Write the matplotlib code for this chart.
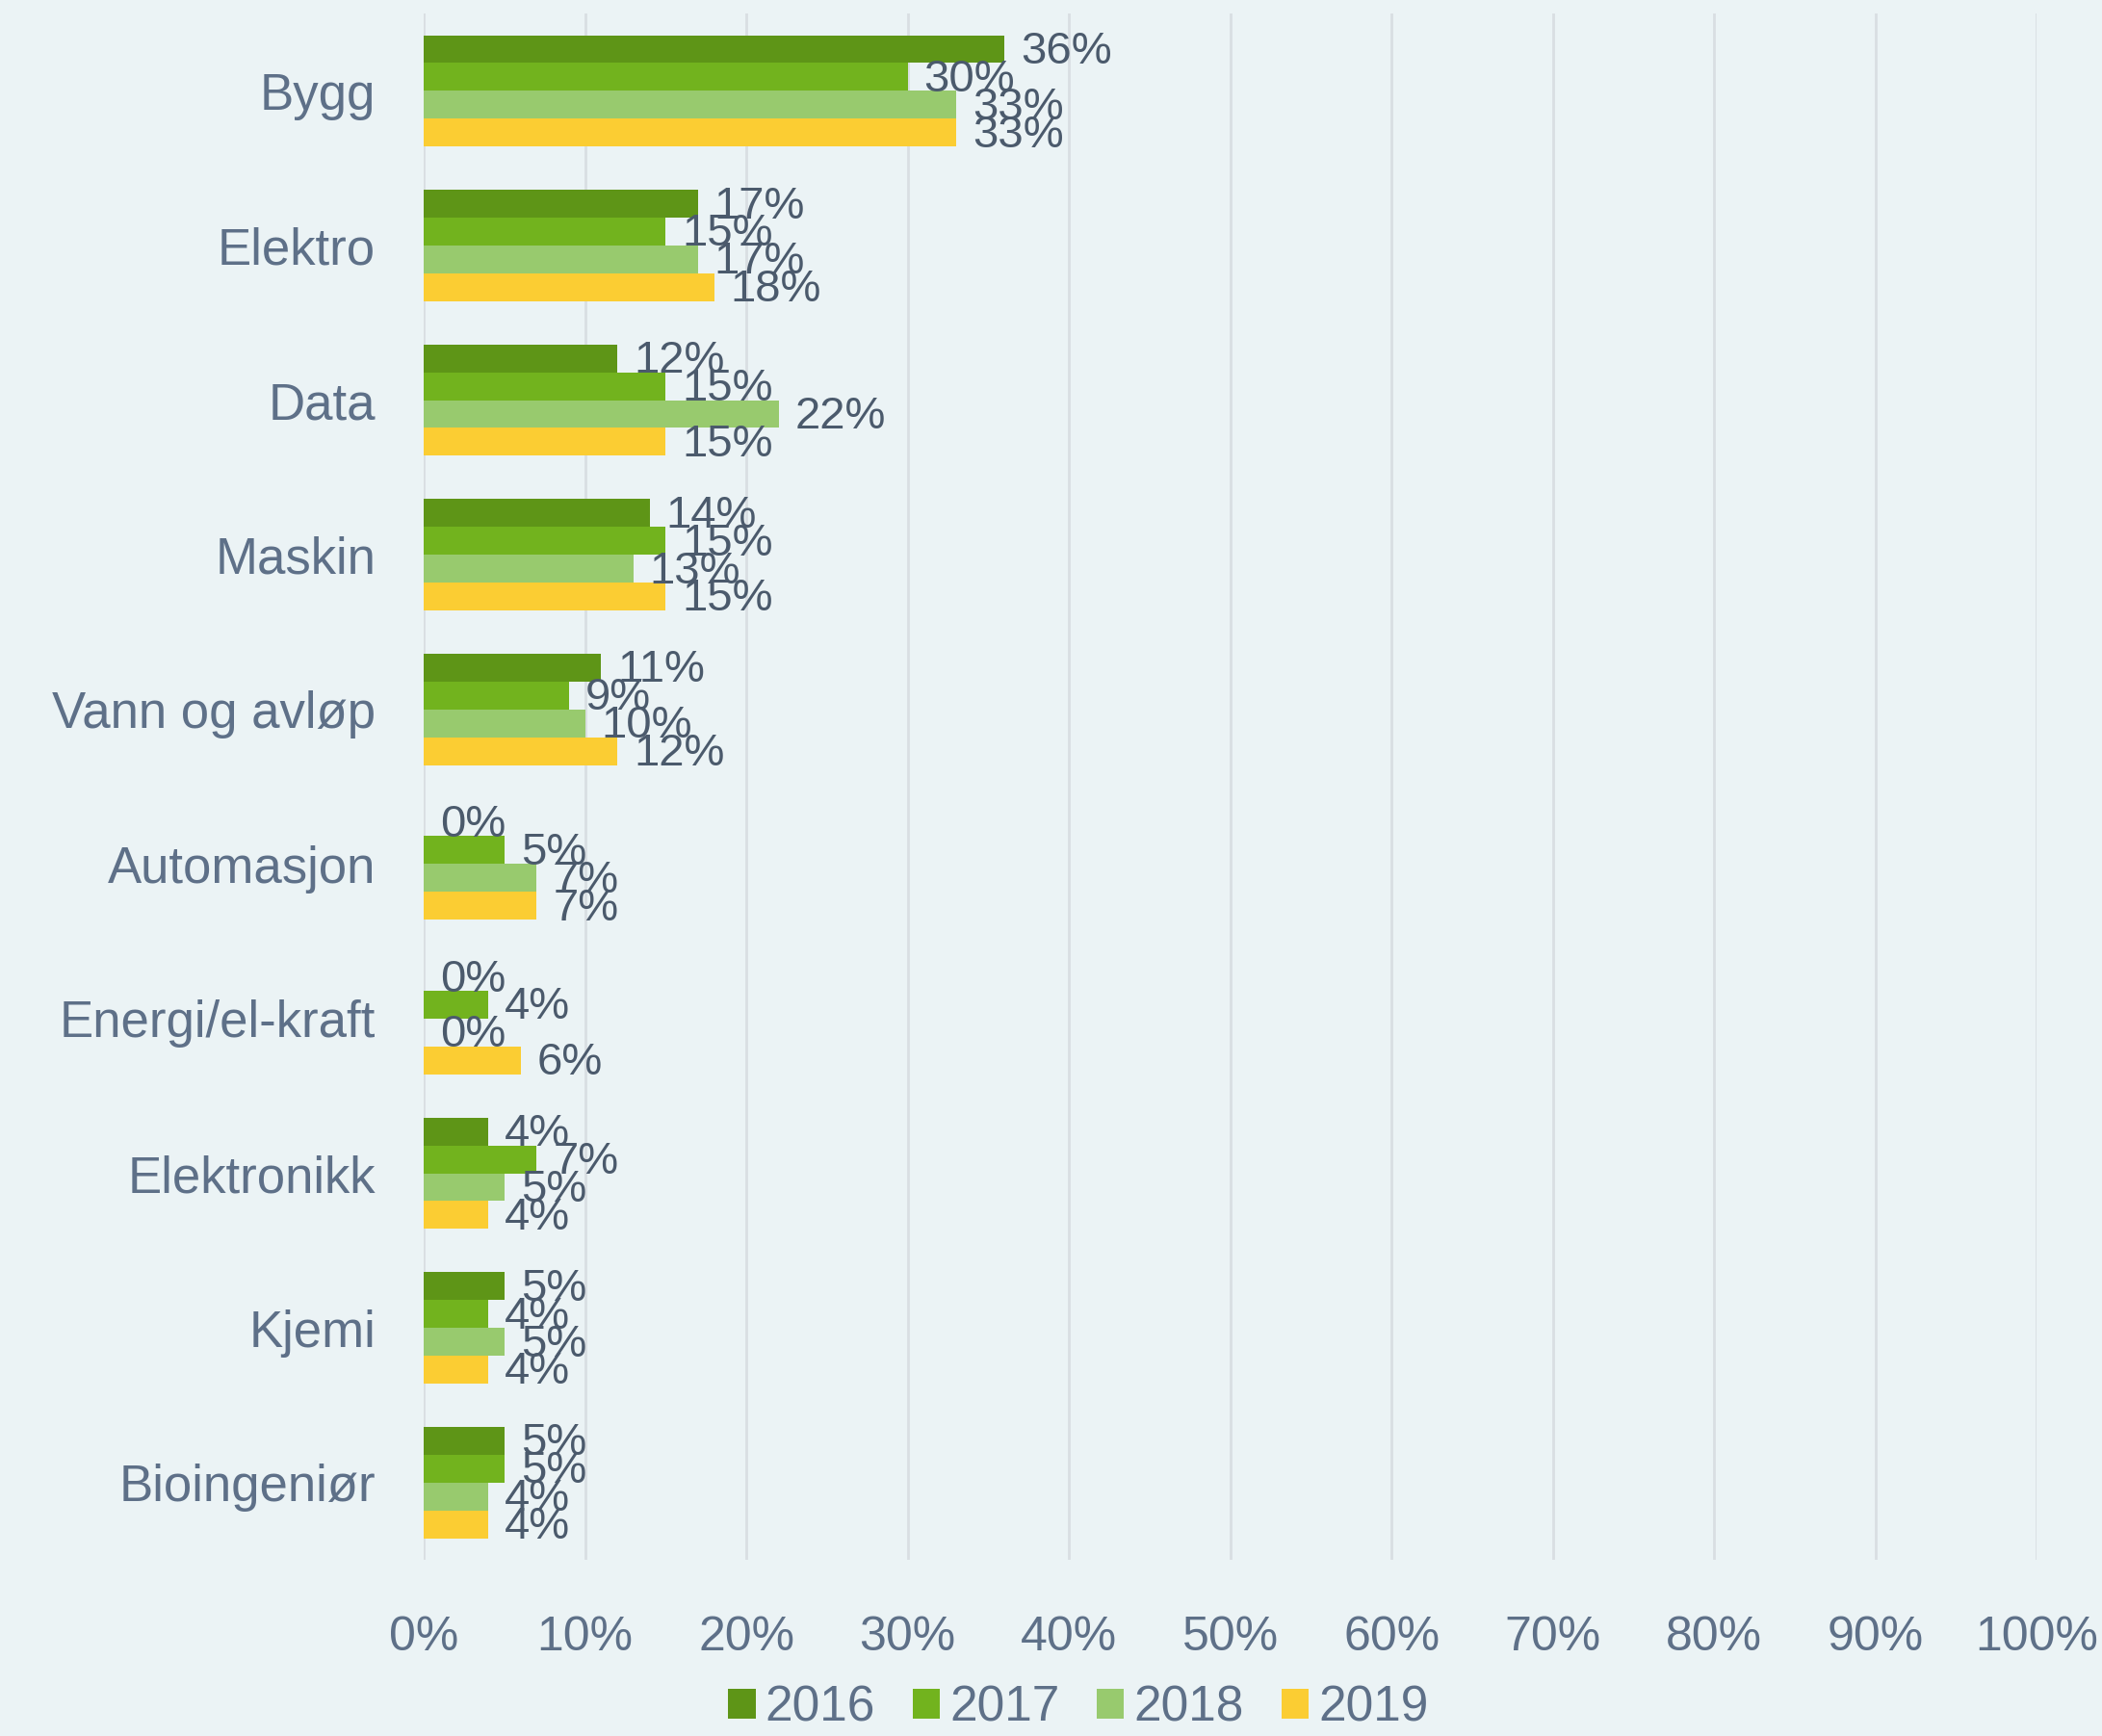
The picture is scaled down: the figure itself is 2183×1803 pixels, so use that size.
import numpy as np
import matplotlib.pyplot as plt

categories = ["Bygg", "Elektro", "Data", "Maskin", "Vann og avløp", "Automasjon",
              "Energi/el-kraft", "Elektronikk", "Kjemi", "Bioingeniør"]
years = ["2016", "2017", "2018", "2019"]
v2016 = [36, 17, 12, 14, 11, 0, 0, 4, 5, 5]
v2017 = [30, 15, 15, 15, 9, 5, 4, 7, 4, 5]
v2018 = [33, 17, 22, 13, 10, 7, 0, 5, 5, 4]
v2019 = [33, 18, 15, 15, 12, 7, 6, 4, 4, 4]
series = [v2016, v2017, v2018, v2019]
colors = ["#5E9517", "#72B31E", "#98CA6E", "#FBCD33"]

bg = "#EBF3F5"
txt = "#5E7088"
lbl = "#4B5A6C"
plt.rcParams['font.family'] = ["Liberation Sans", "DejaVu Sans"]

fig = plt.figure(figsize=(21.83, 18.03), dpi=100, facecolor=bg)
ax = fig.add_axes([0.2016, 0.1015, 0.7673, 0.8907], facecolor=bg)

y = np.arange(len(categories))
h = 0.18
for i, vals in enumerate(series):
    pos = y - 1.5 * h + i * h
    bars = ax.barh(pos, vals, height=h, color=colors[i], label=years[i], zorder=3)
    for b, v in zip(bars, vals):
        ax.annotate(f"{v}%", (v, b.get_y() + h / 2), xytext=(17, -3),
                    textcoords="offset pixels", va="center", ha="left",
                    fontsize=34, color=lbl, zorder=4)

ax.set_ylim(len(categories) - 0.5, -0.5)
ax.set_xlim(0, 100)
ax.set_xticks(range(0, 101, 10))
ax.set_xticklabels([f"{t}%" for t in range(0, 101, 10)])
ax.set_yticks(y)
ax.set_yticklabels(categories)
ax.tick_params(axis="x", length=0, pad=42, labelsize=36, labelcolor=txt)
ax.tick_params(axis="y", length=0, pad=36, labelsize=38, labelcolor=txt)
ax.grid(axis="x", color="#D9DEE2", linewidth=2, zorder=0)
for s in ax.spines.values():
    s.set_visible(False)

fig.legend(loc="center", bbox_to_anchor=(0.513, 0.016), ncol=4, frameon=False,
           fontsize=37, labelcolor=txt, handlelength=0.55, handleheight=0.55,
           handletextpad=0.2, columnspacing=0.75)

fig.savefig("out.png", dpi=100, facecolor=bg)
